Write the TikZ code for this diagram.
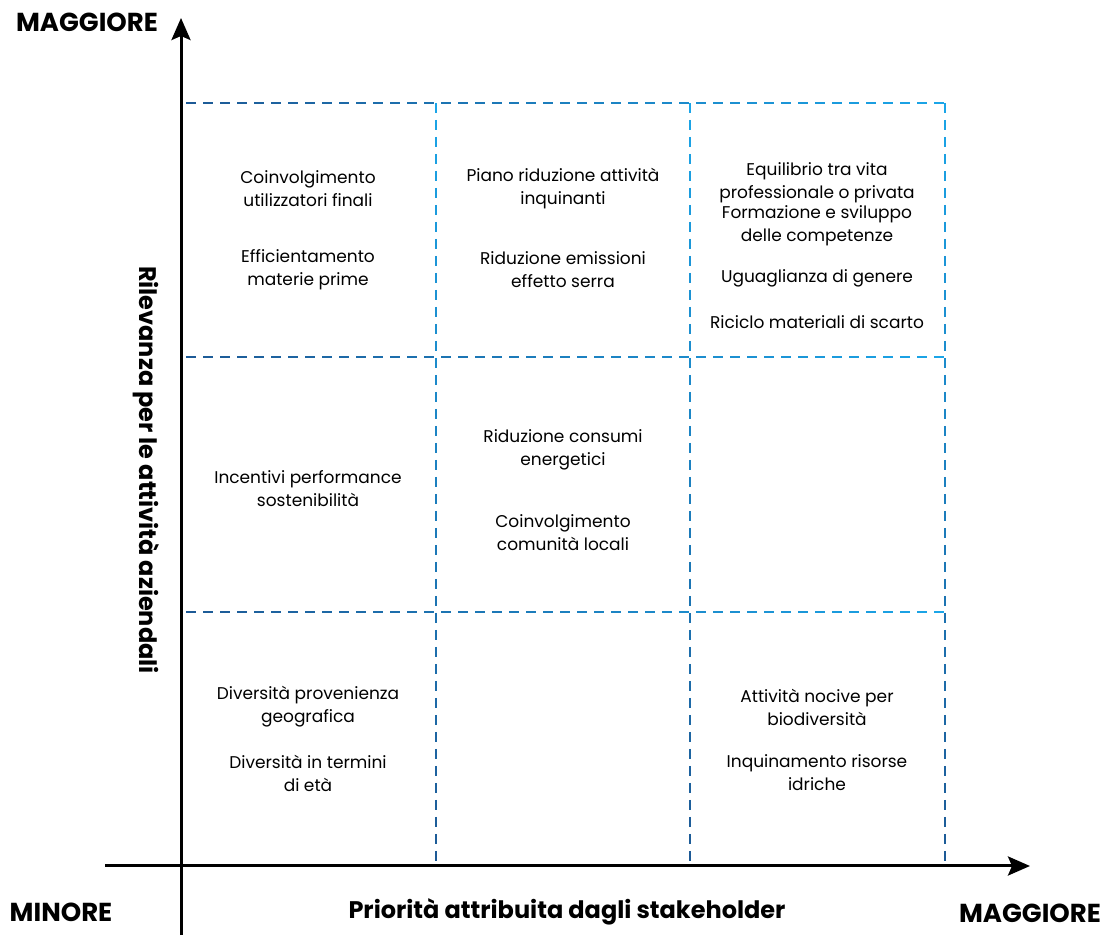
\documentclass[tikz,border=0pt]{standalone}
\usepackage{fontspec}
\setmainfont{Poppins}
\usetikzlibrary{arrows.meta}
\definecolor{gridDark}{HTML}{1D5A96}
\definecolor{gridLight}{HTML}{1BA5E8}
\tikzset{
  item/.style={align=center, inner sep=0pt, font=\fontsize{17}{23}\selectfont},
  axislabel/.style={inner sep=0pt, font=\bfseries\fontsize{24}{28}\selectfont},
  endlabel/.style={axislabel, font=\bfseries\fontsize{26}{28}\selectfont},
  axis/.style={line width=3pt, -{Stealth[length=22pt,width=19pt,inset=4pt]}},
  gridline/.style={line width=2pt}
}
\begin{document}
\begin{tikzpicture}[x=1pt,y=1pt]
      \useasboundingbox (0,0) rectangle (1109,935);
      % axes
      \coordinate (yfoot) at (181,0);
      \coordinate (ytip) at (181,917);
      \coordinate (xfoot) at (105,69);
      \coordinate (xtip) at (1030,69);
      \draw[axis] (yfoot) -- (ytip);
      \draw[axis] (xfoot) -- (xtip);
      % dashed grid
      \foreach \Y in {832,578,323}
        \foreach \k in {0,...,44}{
          \pgfmathsetmacro\xa{186+17*\k}
          \pgfmathtruncatemacro\t{100*\k/44}
          \draw[gridline, gridLight!\t!gridDark] (\xa,\Y) -- ++(10,0);
        }
      \foreach \X in {436,690,945}
        \foreach \k in {0,...,44}{
          \pgfmathsetmacro\ya{832-17*\k}
          \pgfmathtruncatemacro\t{100-100*\k/44}
          \draw[gridline, gridLight!\t!gridDark] (\X,\ya) -- ++(0,-10);
        }
      % axis labels
      \draw
        (87,913) node[endlabel] (ymax){MAGGIORE}
        (61,23) node[endlabel] (xmin){MINORE}
        (567,23) node[axislabel] (xname){Priorità attribuita dagli stakeholder}
        (1030,22) node[endlabel] (xmax){MAGGIORE}
        (146,465) node[axislabel, rotate=-90] (yname){Rilevanza per le attività aziendali};
      % high relevance
      \draw
        (308,746) node[item] (utenti){Coinvolgimento\\utilizzatori finali}
        (308,665) node[item] (materie){Efficientamento\\materie prime}
        (563,746) node[item] (inquinanti){Piano riduzione attività\\inquinanti}
        (563,665) node[item] (serra){Riduzione emissioni\\effetto serra}
        (817,752) node[item] (equilibrio){Equilibrio tra vita\\professionale o privata}
        (817,709) node[item] (formazione){Formazione e sviluppo\\delle competenze}
        (817,657) node[item] (genere){Uguaglianza di genere}
        (817,613) node[item] (riciclo){Riciclo materiali di scarto};
      % medium relevance
      \draw
        (308,446) node[item] (incentivi){Incentivi performance\\sostenibilità}
        (563,485) node[item] (consumi){Riduzione consumi\\energetici}
        (563,402) node[item] (comunita){Coinvolgimento\\comunità locali};
      % low relevance
      \draw
        (308,228) node[item] (provenienza){Diversità provenienza\\geografica}
        (308,162) node[item] (eta){Diversità in termini\\di età}
        (817,228) node[item] (biodiversita){Attività nocive per\\biodiversità}
        (817,162) node[item] (idriche){Inquinamento risorse\\idriche};
    \end{tikzpicture}
\end{document}
